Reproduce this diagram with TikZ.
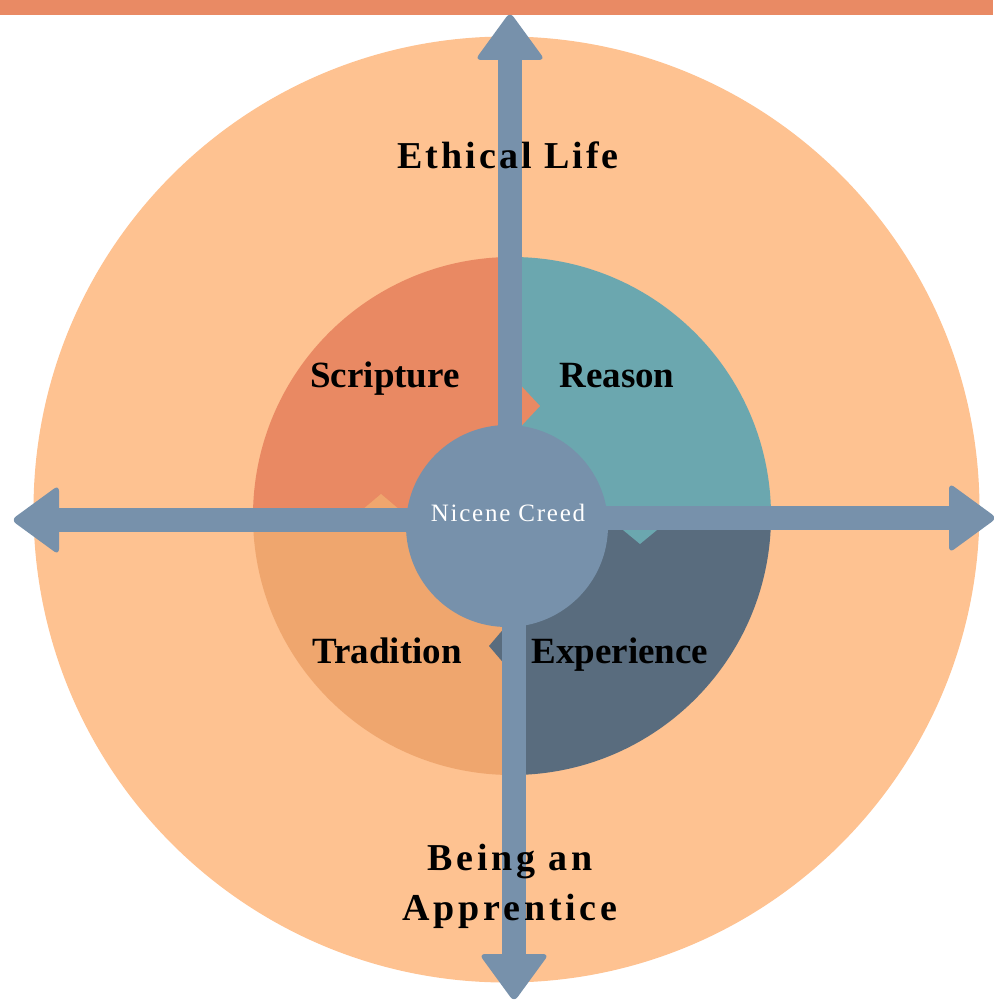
\documentclass[tikz,border=0pt]{standalone}
\usepackage{fontspec}
\setmainfont{Liberation Serif}
\definecolor{bar}{HTML}{E98A64}
\definecolor{field}{HTML}{FEC291}
\definecolor{scripture}{HTML}{E98963}
\definecolor{reason}{HTML}{6BA7AF}
\definecolor{experience}{HTML}{596C7E}
\definecolor{tradition}{HTML}{EFA66E}
\definecolor{spoke}{HTML}{7791AB}
\begin{document}
\begin{tikzpicture}[x=1pt,y=-1pt]
	\tikzset{head/.pic={
			\fill[spoke,rounded corners=6pt](-48,0)--(-48,35)--(0,0)--(-48,-35)--cycle;
	}}
	\tikzset{shaft/.style={draw=spoke,line width=24pt,shorten >=30pt},
		big/.style={font=\fontsize{38}{50}\selectfont\bfseries\addfontfeatures{LetterSpace=#1},align=center,inner sep=0pt},
		big/.default=8,
		part/.style={font=\fontsize{37}{44}\selectfont\bfseries,anchor=base,inner sep=0pt}}
	\useasboundingbox(0,0)rectangle(993,1003);
	\fill[bar](0,0)rectangle(993,15);
	\fill[field](506.5,509.5)circle[radius=473pt];
	\foreach \c/\a/\b in {scripture/250/250,reason/775/250,experience/775/780,tradition/250/780}
	{\begin{scope}
			\clip(512,516)rectangle(\a,\b);
			\fill[\c](512,516)circle[radius=259pt];
		\end{scope}}
	\fill[scripture](512,376)--(540,406)--(512,436)--cycle;
	\fill[reason](606,516)--(640,544)--(674,516)--cycle;
	\fill[experience](512,619)--(489,646)--(512,673)--cycle;
	\fill[tradition](355,516)--(381,494)--(407,516)--cycle;
	\coordinate(mid)at(507,526);
	\coordinate(up)at(510,12);
	\coordinate(down)at(514,1002);
	\coordinate(left)at(11,520);
	\coordinate(right)at(997,518);
	\foreach \p in {up,down}\draw[shaft](\p|-mid)--(\p);
	\foreach \p in {left,right}\draw[shaft](mid|-\p)--(\p);
	\foreach \p/\r in {up/90,down/-90,left/180,right/0}
	\path(\p)pic[rotate=\r]{head};
	\node[circle,fill=spoke,minimum size=202pt,inner sep=0pt](hub)at(mid){};
	\node[font=\fontsize{25}{30}\selectfont\addfontfeatures{LetterSpace=7},text=white,anchor=base,inner sep=0pt](nc)at(508,521){Nicene Creed};
	\node[big,anchor=base](el)at(508,169){Ethical Life};
	\node[part](sc)at(385,387){Scripture};
	\node[part](re)at(617,387){Reason};
	\node[part](tr)at(387,663){Tradition};
	\node[part](ex)at(620,663){Experience};
	\node[big=10](ba)at(510,886){Being an\\Apprentice};
\end{tikzpicture}
\end{document}
